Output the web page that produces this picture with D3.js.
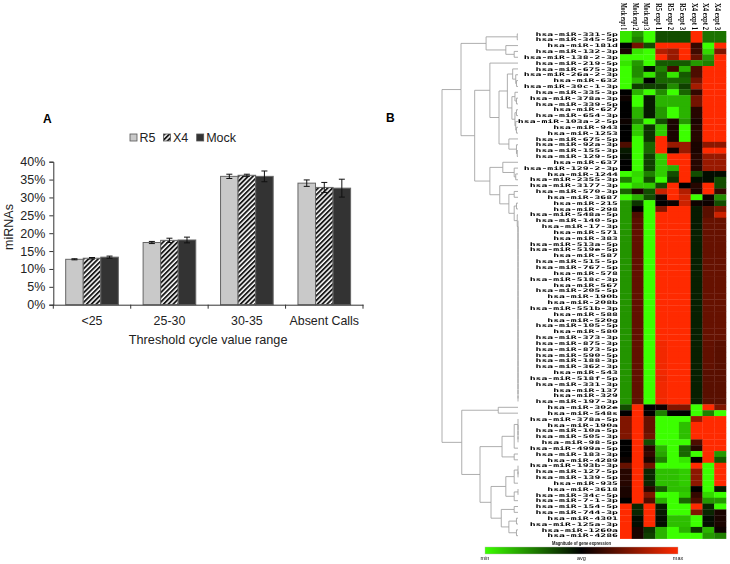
<!DOCTYPE html>
<html>
<head>
<meta charset="utf-8">
<script src="https://cdnjs.cloudflare.com/ajax/libs/d3/7.8.5/d3.min.js"></script>
<style>
  html, body { margin: 0; padding: 0; background: #fff; }
  svg { display: block; }
  text { font-family: "Liberation Sans", Arial, sans-serif; fill: #222; }
</style>
</head>
<body>
<svg id="figure" width="730" height="564"></svg>
<script>
'use strict';

// panel A
var ranges = ['<25', '25-30', '30-35', 'Absent Calls'];
var groups = ['R5', 'X4', 'Mock'];
var r5Values = [12.7, 17.4, 35.9, 34.0];
var x4Values = [13.0, 18.0, 36.2, 32.8];
var mockValues = [13.3, 18.1, 35.9, 32.6];
var r5Errors = [0.15, 0.3, 0.6, 0.9];
var x4Errors = [0.2, 0.6, 0.3, 1.4];
var mockErrors = [0.3, 0.8, 1.5, 2.5];
var percentTicks = [0, 5, 10, 15, 20, 25, 30, 35, 40];

// panel B
var samples = ['Mock expt 1', 'Mock expt 2', 'Mock expt 3', 'R5 expt 1', 'R5 expt 2', 'R5 expt 3', 'X4 expt 1', 'X4 expt 2', 'X4 expt 3'];
var mirnas = ['331-5p', '345-5p', '181d', '132-3p', '138-2-3p', '219-5p', '675-3p', '26a-2-3p', '632', '30c-1-3p',
  '335-3p', '378a-3p', '339-5p', '627', '654-3p', '103a-2-5p', '943', '1253', '675-5p', '92a-3p',
  '155-3p', '129-5p', '637', '129-2-3p', '1244', '2355-3p', '3177-3p', '570-3p', '3687', '215',
  '298', '548a-5p', '140-5p', '17-3p', '571', '383', '513a-5p', '519e-5p', '587', '515-5p',
  '767-5p', '578', '518c-3p', '567', '205-5p', '190b', '208b', '551b-3p', '588', '520g',
  '105-5p', '580', '373-3p', '875-3p', '873-5p', '590-5p', '188-3p', '362-3p', '543', '518f-5p',
  '331-3p', '137', '329', '197-3p', '302e', '548s', '378a-5p', '190a', '10a-5p', '505-3p',
  '98-5p', '499a-5p', '183-3p', '4289', '193b-3p', '127-5p', '139-5p', '935', '3618', '34c-5p',
  '7-1-3p', '154-5p', '744-3p', '4301', '125a-3p', '1260a', '4286'];

var expression = [
  [-.9, -.6, -1, -.3, -.3, -.3, 1, -.45, -.45],
  [-.9, -.5, -1, -.3, -.3, -.3, 1, -.45, -.45],
  [0, .45, -.3, 1, 1, 1, .2, -1, 1],
  [.1, -.9, -1, .7, .6, 1, .25, -.85, .5],
  [-1, -1, -1, 1, .6, 1, .4, -.6, 1],
  [-.9, -.6, -1, -.35, -.35, -.35, -.6, -.5, 1],
  [-1, -.55, -.05, -.5, .25, -.7, .3, 1, 1],
  [-1, -.55, -.9, -.4, -.9, -.35, .3, 1, 1],
  [-1, -.7, 0, -.4, -.4, -.4, .45, 1, 1],
  [-1, -.25, -.25, -.25, -.55, -.25, .65, 1, 1],
  [0, -.7, -1, -.55, -1, -.4, .2, 1, 1],
  [.05, -1, -.1, -.7, -.7, -.7, .45, 1, 1],
  [0, -1, -.1, -.7, -.7, -.7, .45, 1, 1],
  [0, -.7, -.1, -.6, -1, -.7, .15, 1, 1],
  [0, -.7, -.1, -.6, -1, -.7, .15, 1, 1],
  [.05, -.5, -1, -.3, .1, -.6, .1, 1, 1],
  [0, -.8, -.2, -.8, .1, -1, .15, 1, 1],
  [0, -.8, -.2, -.8, .1, -1, .15, 1, 1],
  [0, -1, -.2, 1, .1, -1, .15, 1, 1],
  [.3, -1, -.4, 1, .6, .6, .1, .55, .55],
  [-.1, -1, -.4, 1, .05, .6, .1, 1, 1],
  [-.05, -1, -.25, -.8, 1, 1, .15, .6, .6],
  [0, -1, -.25, -.8, 1, 1, .15, .6, .6],
  [0, -1, -.25, -.8, -.7, 1, .15, .6, .6],
  [-1, -.85, -.5, -.8, -.3, 1, -.3, -.05, -.05],
  [-.5, -.9, -.3, -1, -.2, 1, -.05, -.05, -.3],
  [-1, -.8, -.8, -.3, 1, 0, .15, 1, -.3],
  [-.4, .1, -.3, .8, 1, .7, .1, 1, .2],
  [-1, -.7, -.3, .05, 1, .8, -1, .05, -.55],
  [-.6, -.2, -1, 0, .05, .8, .05, .05, -.3],
  [-.6, 0, -1, .5, 1, 1, -.1, .35, .5],
  [-.6, .3, -1, 1, 1, 1, -.1, .35, .8],
  [-.6, .35, -1, 1, 1, 1, -.1, .4, .4],
  [-.6, .35, -1, 1, 1, 1, -.1, .4, .4],
  [-.58, .38, -1, 1, 1, 1, -.12, .4, .4],
  [-.58, .38, -1, 1, 1, 1, -.12, .4, .4],
  [-.58, .38, -1, 1, 1, 1, -.12, .4, .4],
  [-.58, .38, -1, 1, 1, 1, -.12, .4, .4],
  [-.58, .38, -1, 1, 1, 1, -.12, .4, .4],
  [-.58, .38, -1, 1, 1, 1, -.12, .4, .4],
  [-.58, .38, -1, 1, 1, 1, -.12, .4, .4],
  [-.58, .38, -1, 1, 1, 1, -.12, .4, .4],
  [-.58, .38, -1, 1, 1, 1, -.12, .4, .4],
  [-.58, .38, -1, 1, 1, 1, -.12, .4, .4],
  [-.58, .38, -1, 1, 1, 1, -.12, .4, .4],
  [-.58, .38, -1, 1, 1, 1, -.12, .4, .4],
  [-.58, .38, -1, 1, 1, 1, -.12, .4, .4],
  [-.58, .38, -1, 1, 1, 1, -.12, .4, .4],
  [-.58, .38, -1, 1, 1, 1, -.12, .4, .4],
  [-.58, .38, -1, 1, 1, 1, -.12, .4, .4],
  [-.58, .38, -1, 1, 1, 1, -.12, .4, .4],
  [-.58, .38, -1, 1, 1, 1, -.12, .4, .4],
  [-.58, .38, -1, 1, 1, 1, -.12, .4, .4],
  [-.58, .38, -1, .95, 1, 1, -.12, .38, .35],
  [-.58, .38, -1, .95, 1, 1, -.12, .38, .35],
  [-.58, .38, -1, .95, 1, 1, -.12, .38, .35],
  [-.58, .38, -1, .95, 1, 1, -.12, .38, .35],
  [-.58, .38, -1, .95, 1, 1, -.12, .38, .35],
  [-.58, .38, -1, .95, 1, 1, -.12, .35, .35],
  [-.58, .38, -1, .92, 1, 1, -.12, .35, .35],
  [-.58, .38, -1, .95, 1, 1, -.12, .35, .35],
  [-.58, .38, -1, .95, 1, 1, -.12, .35, .35],
  [-.58, .38, -1, .95, 1, 1, -.12, .35, .35],
  [-.58, .38, -1, .95, 1, 1, -.12, .35, .35],
  [-.3, 1, 0, .05, .5, .5, -1, 1, .5],
  [0, 1, 0, -.5, 0, 0, -1, -.5, -1],
  [.5, 1, .4, -1, -1, -1, .6, 1, 1],
  [.5, 1, .4, -1, -1, -.75, 1, 1, 1],
  [.5, 1, .4, -1, -1, -.75, 1, 1, 1],
  [.5, 1, .45, -1, -1, -.75, 1, 1, 1],
  [0, 1, -.3, -1, -1, -1, .3, 1, 1],
  [0, 1, .15, -.7, -1, -.4, .15, 1, 1],
  [0, 1, .2, -.65, -1, -.4, -1, 1, -.6],
  [.05, 1, .1, -.5, -1, -.9, 0, 1, -.35],
  [.4, 1, .45, -1, -1, -1, 1, -1, 1],
  [.15, 1, -.15, -.75, -.75, -.8, .55, -1, 1],
  [.15, 1, -.15, -.75, -.75, -.8, .55, -1, 1],
  [.15, 1, -.15, -.75, -.75, -.8, .55, -1, 1],
  [.1, 1, .15, -.35, -.75, -.75, 0, -1, -.1],
  [.1, 1, .5, -1, -1, -.8, .2, -.85, -1],
  [0, 1, .3, -.7, -1, -.4, .3, -.6, -.6],
  [1, -.15, 1, -.1, -1, -1, 1, -.15, -1],
  [1, -.15, 1, -.1, -1, -1, .5, -.15, .1],
  [1, -.05, 1, -.05, -.75, -.75, -1, -.05, .1],
  [1, -.05, 1, -.05, -.75, -.75, -1, -.05, .1],
  [1, .1, -.2, -.7, -1, -.7, -.2, -.7, .05],
  [1, .1, -.25, -.7, -1, -1, -1, -.6, -.5]
];

// row numbers joined one after the other at (almost) no distance
function chain(first, last) {
  var node = last;
  for (var r = last - 1; r >= first; r--) {
    node = [0, r, node];
  }
  return node;
}

// [distance, left, right]; a plain number is a row of the heatmap (1-based)
var dendrogram = [1,
  [.75,
    [.42, [.01, 1, 2], [.16, 3, [.05, 4, 5]]],
    [.57,
      [.37, 6,
        [.25,
          [.14,
            [.07, 7, [.03, 8, [.02, 9, 10]]],
            [.08, [.04, 11, [.02, 12, 13]], [.04, [.02, 14, 15], [.03, 16, [.02, 17, 18]]]]
          ],
          [.12, 19, [.02, 20, [.01, 21, 22]]]
        ]
      ],
      [.37,
        [.2, 23, [.05, 24, [.03, 25, 26]]],
        [.24, 27,
          [.12, [.05, 28, 29], [.05, [.02, 30, 31], [.01, 32, chain(33, 64)]]]
        ]
      ]
    ]
  ],
  [.74,
    [.26, 65, 66],
    [.5,
      [.21, [.05, chain(67, 71), 72], [.05, 73, 74]],
      [.355,
        [.16, [.05, chain(75, 77), 78], [.05, chain(79, 80), 81]],
        [.22, [.05, 82, 83], [.12, [.02, 84, 85], [.02, 86, 87]]]
      ]
    ]
  ]
];

var svg = d3.select('#figure');

// ---- panel A ----
var chartLeft = 53.3, chartRight = 363, chartTop = 161.7, chartBottom = 304.7;

var x0 = d3.scaleBand().domain(ranges).range([chartLeft, chartRight]).paddingInner(0.32).paddingOuter(0.16);
var x1 = d3.scaleBand().domain(groups).range([0, x0.bandwidth()]);
var y = d3.scaleLinear().domain([0, 40]).range([chartBottom, chartTop]);

var defs = svg.append('defs');
var hatch = defs.append('pattern')
  .attr('id', 'hatch')
  .attr('width', 3.4)
  .attr('height', 3.4)
  .attr('patternUnits', 'userSpaceOnUse')
  .attr('patternTransform', 'rotate(45)');
hatch.append('rect').attr('width', 3.4).attr('height', 3.4).attr('fill', '#fff');
hatch.append('rect').attr('width', 1.9).attr('height', 3.4).attr('fill', '#1a1a1a');

var barFill = { R5: '#c9c9c9', X4: 'url(#hatch)', Mock: '#333333' };
var barRows = [
  { name: 'R5', values: r5Values, errors: r5Errors },
  { name: 'X4', values: x4Values, errors: x4Errors },
  { name: 'Mock', values: mockValues, errors: mockErrors }
];

var chartA = svg.append('g').attr('class', 'panel-a');

barRows.forEach(function (row) {
  var series = chartA.append('g').attr('class', 'series');
  ranges.forEach(function (range, i) {
    var cx = x0(range) + x1(row.name) + x1.bandwidth() / 2;
    series.append('rect')
      .attr('x', x0(range) + x1(row.name))
      .attr('y', y(row.values[i]))
      .attr('width', x1.bandwidth())
      .attr('height', y(0) - y(row.values[i]))
      .attr('fill', barFill[row.name])
      .attr('stroke', '#666')
      .attr('stroke-width', 1);
    var top = y(row.values[i] + row.errors[i]);
    var bottom = y(row.values[i] - row.errors[i]);
    series.append('path')
      .attr('d', 'M' + (cx - 3) + ',' + top + 'H' + (cx + 3) + 'M' + cx + ',' + top + 'V' + bottom + 'M' + (cx - 3) + ',' + bottom + 'H' + (cx + 3))
      .attr('fill', 'none')
      .attr('stroke', '#111')
      .attr('stroke-width', 1);
  });
});

var yAxis = d3.axisLeft(y)
  .tickValues(percentTicks)
  .tickFormat(function (d) { return d + '%'; })
  .tickSize(4)
  .tickPadding(4);
var yAxisG = chartA.append('g')
  .attr('transform', 'translate(' + chartLeft + ',0)')
  .call(yAxis);
yAxisG.selectAll('text').attr('font-size', 12.5).style('fill', '#222');

var xAxisG = chartA.append('g')
  .attr('transform', 'translate(0,' + chartBottom + ')')
  .call(d3.axisBottom(x0).tickSize(0).tickPadding(12));
xAxisG.selectAll('text').attr('font-size', 12.4).style('fill', '#222');
// ticks sit between the categories
xAxisG.selectAll('.boundary')
  .data(d3.range(ranges.length + 1))
  .enter()
  .append('line')
  .attr('class', 'boundary')
  .attr('x1', function (d) { return chartLeft + d * x0.step(); })
  .attr('x2', function (d) { return chartLeft + d * x0.step(); })
  .attr('y2', 4)
  .attr('stroke', '#333');

chartA.selectAll('.domain').attr('stroke', '#333');
chartA.selectAll('.tick line').attr('stroke', '#333');

chartA.append('text')
  .attr('x', (chartLeft + chartRight) / 2)
  .attr('y', 344)
  .attr('text-anchor', 'middle')
  .attr('font-size', 12.7)
  .text('Threshold cycle value range');

chartA.append('text')
  .attr('transform', 'translate(12.5,227) rotate(-90)')
  .attr('text-anchor', 'middle')
  .attr('font-size', 12.5)
  .text('miRNAs');

var legendX = d3.scaleOrdinal().domain(groups).range([130, 163.5, 196.7]);
var legend = chartA.selectAll('.legend')
  .data(groups)
  .enter()
  .append('g')
  .attr('class', 'legend')
  .attr('transform', function (d) { return 'translate(' + legendX(d) + ',134)'; });
legend.append('rect')
  .attr('width', 7)
  .attr('height', 7)
  .attr('fill', function (d) { return barFill[d]; })
  .attr('stroke', '#555')
  .attr('stroke-width', 0.8);
legend.append('text')
  .attr('x', 9.5)
  .attr('y', 8.2)
  .attr('font-size', 12.5)
  .text(function (d) { return d; });

svg.append('text').attr('x', 43).attr('y', 122.7).attr('font-size', 12).attr('font-weight', 'bold').style('fill', '#000').text('A');
svg.append('text').attr('x', 386).attr('y', 121.7).attr('font-size', 12).attr('font-weight', 'bold').style('fill', '#000').text('B');

// ---- panel B ----
var heatColor = d3.scaleLinear().domain([-1, 0, 1]).range(['#3cff00', '#000000', '#ff2a00']);
var col = d3.scaleBand().domain(samples).range([620, 726]);
var rowY = d3.scaleBand().domain(d3.range(1, mirnas.length + 1)).range([31, 538.6]);

var heat = svg.append('g').attr('class', 'panel-b').style('filter', 'blur(0.35px)');

expression.forEach(function (values, r) {
  heat.selectAll('.row' + r)
    .data(values)
    .enter()
    .append('rect')
    .attr('class', 'row' + r)
    .attr('x', function (d, i) { return col(samples[i]); })
    .attr('y', rowY(r + 1))
    .attr('width', col.bandwidth() + 0.3)
    .attr('height', rowY.bandwidth() + 0.3)
    .attr('fill', function (d) { return heatColor(d); });
});

heat.selectAll('.mirna')
  .data(mirnas)
  .enter()
  .append('text')
  .attr('class', 'mirna')
  .attr('transform', function (d, i) {
    return 'translate(618,' + (rowY(i + 1) + rowY.bandwidth() / 2 + 1.7) + ') scale(2,1)';
  })
  .attr('text-anchor', 'end')
  .attr('font-size', 4.9)
  .attr('font-weight', 'bold')
  .style('font-family', '"DejaVu Sans Mono", monospace')
  .style('fill', '#000')
  .text(function (d) { return 'hsa-miR-' + d; });

heat.selectAll('.sample')
  .data(samples)
  .enter()
  .append('text')
  .attr('class', 'sample')
  .attr('transform', function (d) {
    return 'translate(' + (col(d) + col.bandwidth() / 2 - 5) + ',3) rotate(90)';
  })
  .attr('font-size', 7.5)
  .attr('font-weight', 'bold')
  .attr('textLength', 27)
  .attr('lengthAdjust', 'spacingAndGlyphs')
  .style('font-family', '"Liberation Serif", serif')
  .style('fill', '#000')
  .text(function (d) { return d; });

// dendrogram
var treeX = d3.scaleLinear().domain([0, 1]).range([518, 442]);
var root = d3.hierarchy(dendrogram, function (n) { return Array.isArray(n) ? n.slice(1) : null; });
root.eachAfter(function (node) {
  if (node.children) {
    node.px = treeX(node.data[0]);
    node.py = d3.mean(node.children, function (c) { return c.py; });
  } else {
    node.px = treeX(0);
    node.py = rowY(node.data) + rowY.bandwidth() / 2;
  }
});

heat.append('g')
  .attr('class', 'dendrogram')
  .selectAll('path')
  .data(root.links())
  .enter()
  .append('path')
  .attr('d', function (l) {
    return 'M' + l.source.px + ',' + l.source.py + 'V' + l.target.py + 'H' + l.target.px;
  })
  .attr('fill', 'none')
  .attr('stroke', '#999')
  .attr('stroke-width', 0.8);

// colour key
var keyX = d3.scaleLinear().domain([-1, 1]).range([485, 678]);
var gradient = defs.append('linearGradient').attr('id', 'keyGradient');
gradient.selectAll('stop')
  .data(heatColor.domain())
  .enter()
  .append('stop')
  .attr('offset', function (d) { return (d + 1) / 2; })
  .attr('stop-color', function (d) { return heatColor(d); });

heat.append('rect')
  .attr('x', keyX(-1))
  .attr('y', 547)
  .attr('width', keyX(1) - keyX(-1))
  .attr('height', 7)
  .attr('fill', 'url(#keyGradient)')
  .attr('stroke', '#bbb')
  .attr('stroke-width', 0.4);

heat.append('text')
  .attr('x', keyX(0))
  .attr('y', 545)
  .attr('text-anchor', 'middle')
  .attr('font-size', 5.5)
  .attr('font-weight', 'bold')
  .attr('textLength', 59)
  .attr('lengthAdjust', 'spacingAndGlyphs')
  .style('fill', '#111')
  .text('Magnitude of gene expression');

heat.selectAll('.key-label')
  .data([['min', -1], ['avg', 0], ['max', 1]])
  .enter()
  .append('text')
  .attr('class', 'key-label')
  .attr('x', function (d) { return keyX(d[1]); })
  .attr('y', 560)
  .attr('text-anchor', 'middle')
  .attr('font-size', 5.5)
  .style('fill', '#111')
  .text(function (d) { return d[0]; });
</script>
</body>
</html>
